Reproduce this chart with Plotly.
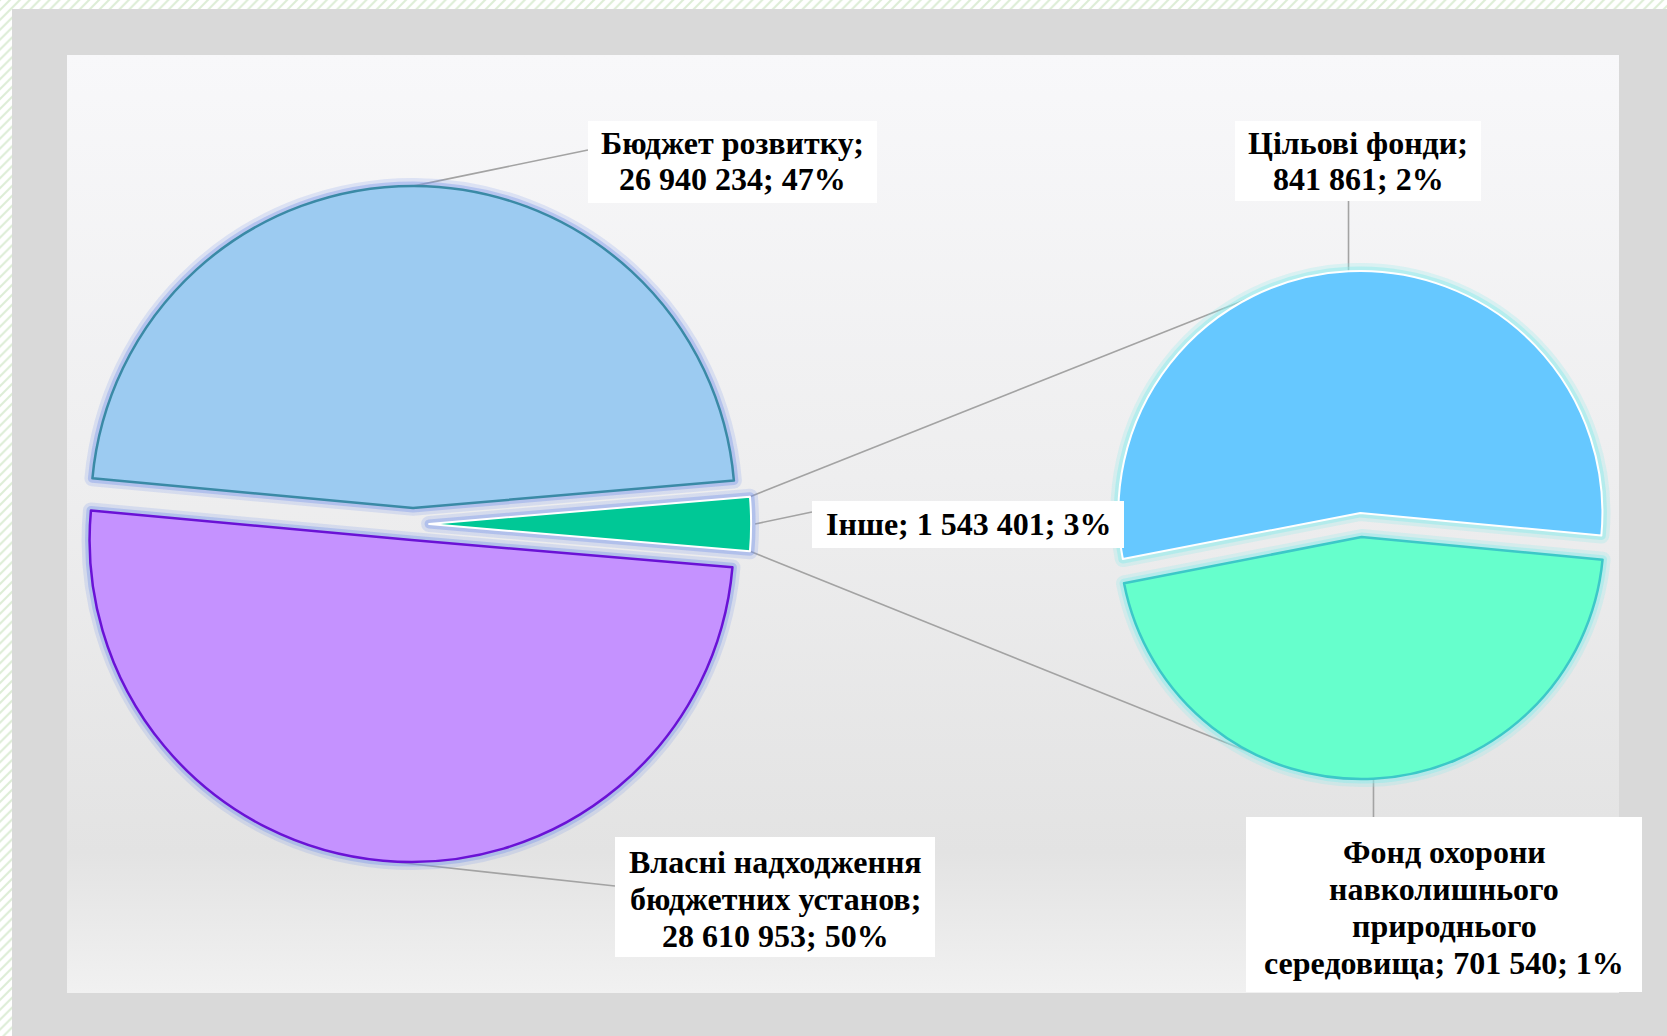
import math
import plotly.graph_objects as go

W, H = 1667, 1036

# ---------------- data ----------------
main_labels = ["Бюджет розвитку", "Інше", "Власні надходження бюджетних установ"]
main_values = [26940234, 1543401, 28610953]
main_pcts = ["47%", "3%", "50%"]

sub_labels = ["Цільові фонди", "Фонд охорони навколишнього природнього середовища"]
sub_values = [841861, 701540]
sub_pcts = ["2%", "1%"]

# ---------------- styles ----------------
main_colors = ["#9ccbf1", "#00c896", "#c592ff"]
main_lines = ["#3a8aa6", "#ffffff", "#6a12d6"]
main_line_w = [2.5, 2, 2.5]
sub_colors = ["#66c8ff", "#66ffcc"]
sub_lines = ["#ffffff", "#3cc8c8"]
sub_line_w = [2, 2.5]

FONT = dict(family="Liberation Serif", size=32, color="#000000", weight=700)
LINE_C = "#a3a3a3"

# pie geometry in pixels
GL = dict(cx=413, cy=524, r=322, pull=0.05)
GR = dict(cx=1361, cy=525, r=242, pull=0.05)

rot_left = 90 - 360 * (main_values[0] + main_values[1] / 2) / sum(main_values)
rot_right = -101


def domain(g):
    half = g["r"] * (1 + g["pull"])
    return dict(x=[(g["cx"] - half) / W, (g["cx"] + half) / W],
                y=[1 - (g["cy"] + half) / H, 1 - (g["cy"] - half) / H])


def slice_angles(values, rot):
    tot = sum(values)
    out = []
    a = rot
    for v in values:
        span = 360 * v / tot
        out.append((a, a + span))
        a += span
    return out


def arc_point(g, ang_pair, a_deg, extra=0.0):
    b = math.radians((ang_pair[0] + ang_pair[1]) / 2)
    d = g["pull"] * g["r"]
    a = math.radians(a_deg)
    rr = g["r"] + extra
    return (g["cx"] + d * math.sin(b) + rr * math.sin(a),
            g["cy"] - d * math.cos(b) - rr * math.cos(a))


angL = slice_angles(main_values, rot_left)
angR = slice_angles(sub_values, rot_right)


def fmt(v):
    return f"{v:,}".replace(",", " ")


fig = go.Figure()

# ---------------- background ----------------
hx = [0, W, W, 0, 0, None, 0, 12, 12, 0, 0]
hy = [0, 0, 9, 9, 0, None, 0, 0, H, H, 0]
fig.add_trace(go.Scatter(
    x=hx, y=hy, mode="lines", fill="toself", line=dict(width=0),
    fillcolor="white",
    fillpattern=dict(shape="/", fgcolor="#bcdcae", bgcolor="#ffffff", size=7, solidity=0.3),
    hoverinfo="skip", showlegend=False))

px0, py0, px1, py1 = 67, 55, 1619, 993
fig.add_trace(go.Scatter(
    x=[px0, px1, px1, px0, px0], y=[py0, py0, py1, py1, py0],
    mode="lines", fill="toself", line=dict(width=0),
    fillgradient=dict(type="vertical", start=py0, stop=py1,
                      colorscale=[[0, "#f8f8fa"], [0.45, "#eeeeef"], [0.85, "#e3e3e3"], [1, "#f1f1f1"]]),
    hoverinfo="skip", showlegend=False))

# ---------------- leader & series lines ----------------
lines = []
lines.append((arc_point(GL, angL[0], sum(angL[0]) / 2), (588, 150)))          # Бюджет
lines.append((arc_point(GL, angL[1], sum(angL[1]) / 2, 4), (812, 512)))       # Інше
lines.append((arc_point(GL, angL[2], sum(angL[2]) / 2), (615, 886)))          # Власні
p = arc_point(GR, angR[0], sum(angR[0]) / 2)
lines.append((p, (p[0], 201)))                                                # Цільові
p = arc_point(GR, angR[1], sum(angR[1]) / 2)
lines.append((p, (p[0], 817)))                                                # Фонд
lines.append((arc_point(GL, angL[1], angL[1][0]), arc_point(GR, angR[0], -28)))
lines.append((arc_point(GL, angL[1], angL[1][1]), arc_point(GR, angR[1], 206)))

lx, ly = [], []
for (a, b) in lines:
    lx += [a[0], b[0], None]
    ly += [a[1], b[1], None]
fig.add_trace(go.Scatter(x=lx, y=ly, mode="lines", line=dict(color=LINE_C, width=1.6),
                         hoverinfo="skip", showlegend=False))


# ---------------- pies ----------------
def add_pie(g, labels, values, colors, lcols, lws, rot, glow):
    for w, c in glow:
        fig.add_trace(go.Pie(
            labels=labels, values=values, sort=False, direction="clockwise",
            rotation=rot, pull=g["pull"], domain=domain(g), textinfo="none",
            hoverinfo="skip", showlegend=False,
            marker=dict(colors=colors, line=dict(color=c, width=w))))
    fig.add_trace(go.Pie(
        labels=labels, values=values, sort=False, direction="clockwise",
        rotation=rot, pull=g["pull"], domain=domain(g), textinfo="none",
        hoverinfo="label+value+percent", showlegend=False,
        marker=dict(colors=colors, line=dict(color=lcols, width=lws))))


add_pie(GL, main_labels, main_values, main_colors, main_lines, main_line_w, rot_left,
        [(16, "rgba(120,150,235,0.2)"), (9, "rgba(120,150,235,0.38)")])
add_pie(GR, sub_labels, sub_values, sub_colors, sub_lines, sub_line_w, rot_right,
        [(16, "rgba(140,235,235,0.25)"), (9, "rgba(140,235,235,0.45)")])

# ---------------- labels (box in px, text lines, line centre y in px) ----------------
labels_spec = [
    ((588, 121, 877, 203), ["Бюджет розвитку;", f"{fmt(main_values[0])}; {main_pcts[0]}"], [143, 179]),
    ((812, 501, 1124, 548), [f"Інше; {fmt(main_values[1])}; {main_pcts[1]}"], [524]),
    ((615, 837, 935, 957), ["Власні надходження", "бюджетних установ;",
                            f"{fmt(main_values[2])}; {main_pcts[2]}"], [862, 899, 936]),
    ((1235, 121, 1481, 201), ["Цільові фонди;", f"{fmt(sub_values[0])}; {sub_pcts[0]}"], [143, 179]),
    ((1246, 817, 1642, 992), ["Фонд охорони", "навколишнього", "природнього",
                              f"середовища; {fmt(sub_values[1])}; {sub_pcts[1]}"], [852, 889, 926, 963]),
]
for (x0, y0, x1, y1), tlines, ys in labels_spec:
    fig.add_shape(type="rect", xref="paper", yref="paper",
                  x0=x0 / W, x1=x1 / W, y0=1 - y1 / H, y1=1 - y0 / H,
                  fillcolor="#ffffff", line=dict(width=0), layer="above")
    xc = (x0 + x1) / 2
    for t, y in zip(tlines, ys):
        fig.add_annotation(text=t, x=xc / W, y=1 - y / H, xref="paper", yref="paper",
                           xanchor="center", yanchor="middle", showarrow=False,
                           borderpad=0, font=FONT)

fig.update_layout(
    width=W, height=H, autosize=False,
    margin=dict(l=0, r=0, t=0, b=0),
    paper_bgcolor="#d9d9d9", plot_bgcolor="rgba(0,0,0,0)",
    xaxis=dict(range=[0, W], visible=False, domain=[0, 1], fixedrange=True),
    yaxis=dict(range=[H, 0], visible=False, domain=[0, 1], fixedrange=True),
    showlegend=False,
)

fig.write_html("out.html", config={"displayModeBar": False},
               post_script="document.body.style.margin='0';document.body.style.overflow='hidden';")
